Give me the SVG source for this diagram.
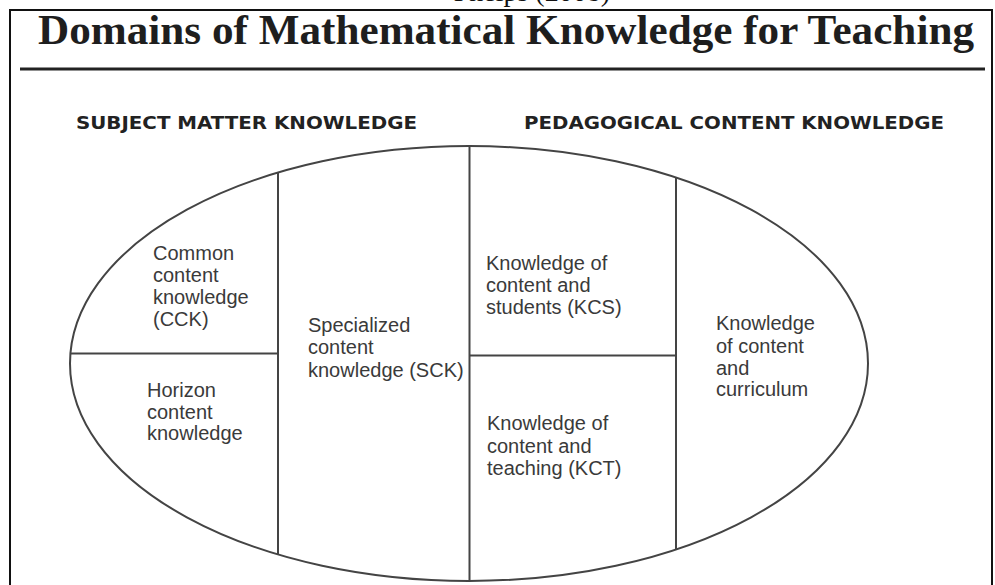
<svg xmlns="http://www.w3.org/2000/svg" width="995" height="585" viewBox="0 0 995 585">
  <style>
    .title { font-family: "Liberation Serif", "Times New Roman", serif; font-weight: bold; font-size: 43px; fill: #1e1e1e; }
    .cap { font-family: "Liberation Serif", "Times New Roman", serif; font-size: 28px; fill: #111; }
    .head { font-family: "DejaVu Sans", Verdana, sans-serif; font-weight: bold; font-size: 18.5px; fill: #222; }
    .lbl { font-family: "Liberation Sans", Arial, sans-serif; font-size: 20px; fill: #3a3a3a; }
    .ln { stroke: #444; stroke-width: 2; fill: none; }
  </style>
  <rect x="0" y="0" width="995" height="585" fill="#ffffff"/>
  <text class="cap" x="610" y="0.5" text-anchor="end">Phelps (2008)</text>
  <rect x="10" y="10" width="982" height="600" fill="none" stroke="#111" stroke-width="2"/>
  <g id="title">
    <text class="title" x="38" y="44" textLength="936" lengthAdjust="spacingAndGlyphs">Domains of Mathematical Knowledge for Teaching</text>
  </g>
  <line x1="20" y1="69" x2="985" y2="69" stroke="#222" stroke-width="3"/>
  <g id="heading-smk">
    <text class="head" x="76" y="129" textLength="341" lengthAdjust="spacingAndGlyphs">SUBJECT MATTER KNOWLEDGE</text>
  </g>
  <g id="heading-pck">
    <text class="head" x="524" y="129" textLength="420" lengthAdjust="spacingAndGlyphs">PEDAGOGICAL CONTENT KNOWLEDGE</text>
  </g>
  <g id="connectors">
    <ellipse class="ln" cx="469" cy="363.5" rx="399" ry="217.5"/>
    <line class="ln" x1="278" y1="172.5" x2="278" y2="554.5"/>
    <line class="ln" x1="469.5" y1="146" x2="469.5" y2="581"/>
    <line class="ln" x1="676" y1="177.5" x2="676" y2="549.5"/>
    <line class="ln" x1="70" y1="353.5" x2="278" y2="353.5"/>
    <line class="ln" x1="469.5" y1="355.5" x2="676" y2="355.5"/>
  </g>
  <g id="cck">
    <text class="lbl" x="153" y="260">Common</text>
    <text class="lbl" x="153" y="282">content</text>
    <text class="lbl" x="153" y="303.5">knowledge</text>
    <text class="lbl" x="153" y="325.5">(CCK)</text>
  </g>
  <g id="hck">
    <text class="lbl" x="147" y="397">Horizon</text>
    <text class="lbl" x="147" y="418.5">content</text>
    <text class="lbl" x="147" y="440">knowledge</text>
  </g>
  <g id="sck">
    <text class="lbl" x="308" y="332">Specialized</text>
    <text class="lbl" x="308" y="354">content</text>
    <text class="lbl" x="308" y="376.5">knowledge (SCK)</text>
  </g>
  <g id="kcs">
    <text class="lbl" x="486" y="269.5">Knowledge of</text>
    <text class="lbl" x="486" y="291.5">content and</text>
    <text class="lbl" x="486" y="314">students (KCS)</text>
  </g>
  <g id="kct">
    <text class="lbl" x="487" y="430">Knowledge of</text>
    <text class="lbl" x="487" y="452.5">content and</text>
    <text class="lbl" x="487" y="474.5">teaching (KCT)</text>
  </g>
  <g id="kcc">
    <text class="lbl" x="716" y="330">Knowledge</text>
    <text class="lbl" x="716" y="352.5">of content</text>
    <text class="lbl" x="716" y="374.5">and</text>
    <text class="lbl" x="716" y="396">curriculum</text>
  </g>
</svg>
